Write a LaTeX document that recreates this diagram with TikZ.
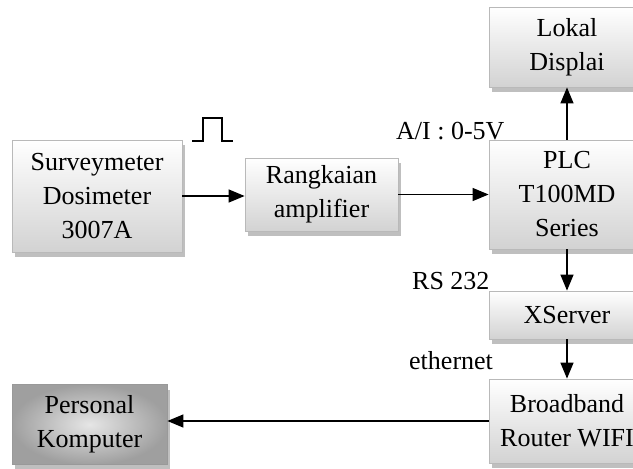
\documentclass[tikz,border=0pt]{standalone}
\usepackage{fontspec}
\setmainfont{Liberation Serif}
\usetikzlibrary{arrows.meta,shadows}
\tikzset{
  grayBox/.style={draw=gray!55, line width=0.8pt, top color=white, bottom color=gray!35,
    general shadow={fill=gray!50, shadow xshift=3pt, shadow yshift=-5pt},
    align=center, inner sep=0pt, font=\fontsize{26}{34}\selectfont},
  darkBox/.style={grayBox, draw=gray!80, inner color=gray!20, outer color=gray!75},
  sigArrow/.style={-{Triangle[length=16pt,width=13pt]}, line width=1.3pt},
  sigLabel/.style={inner sep=0pt, font=\fontsize{26}{30}\selectfont}
}
\begin{document}
\begin{tikzpicture}[x=1pt,y=-1pt]
  \useasboundingbox[fill=white] (0,0) rectangle (633,469);
  % blok diagram
  \node[grayBox, minimum width=170pt, minimum height=112pt] (surv) at (97,196)
    {Surveymeter\\Dosimeter\\3007A};
  \node[grayBox, minimum width=153pt, minimum height=73pt] (rang) at (321.5,194.5)
    {Rangkaian\\amplifier};
  \node[grayBox, minimum width=156pt, minimum height=109pt] (plc) at (567,194.5)
    {PLC\\T100MD\\Series};
  \node[grayBox, minimum width=156pt, minimum height=80pt] (lokal) at (567,47)
    {Lokal\\Displai};
  \node[grayBox, minimum width=156pt, minimum height=48pt] (xsrv) at (567,315)
    {XServer};
  \node[grayBox, minimum width=156pt, minimum height=84pt] (router) at (567,421)
    {Broadband\\Router WIFI};
  \node[darkBox, minimum width=155pt, minimum height=80pt] (pc) at (89.5,424.5)
    {Personal\\Komputer};
  % panah
  \draw[sigArrow] (surv.east) -- (surv.east -| rang.west);
  \draw[sigArrow] (rang.east) -- (rang.east -| plc.west);
  \draw[sigArrow] (plc.north) -- (lokal.south);
  \draw[sigArrow] (plc.south) -- (xsrv.north);
  \draw[sigArrow] (xsrv.south) -- (router.north);
  \draw[sigArrow] (router.west) -- (router.west -| pc.east);
  % pulsa
  \draw[line width=1.6pt] (192,141) -- (203,141) -- (203,118) -- (222,118) -- (222,141) -- (233,141);
  % label
  \node[sigLabel, anchor=west] (ai) at (396,131) {A/I : 0-5V};
  \node[sigLabel, anchor=west] (rs) at (412,281) {RS 232};
  \node[sigLabel, anchor=west] (eth) at (409,361) {ethernet};
\end{tikzpicture}
\end{document}
